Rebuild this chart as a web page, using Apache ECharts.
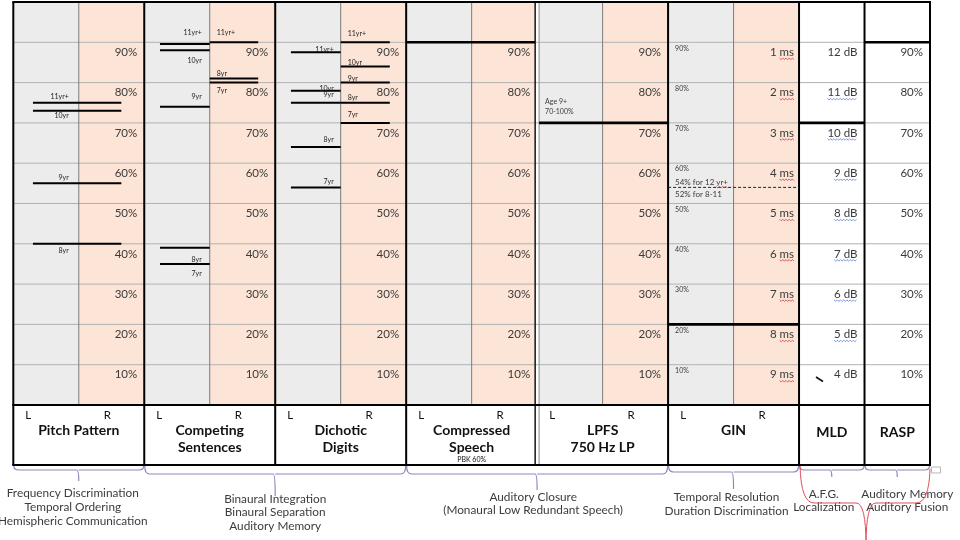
<!DOCTYPE html>
<html>
<head>
<meta charset="utf-8">
<script src="https://cdn.jsdelivr.net/npm/echarts@6.0.0/dist/echarts.min.js"></script>
<style>
html,body{margin:0;padding:0;background:#ffffff;}
#chart{width:960px;height:540px;}
</style>
</head>
<body>
<div id="chart"></div>
<script>
// ===================== DATA =====================
const tests = ["Pitch Pattern", "Competing\nSentences", "Dichotic\nDigits", "Compressed\nSpeech", "LPFS\n750 Hz LP", "GIN", "MLD", "RASP"];
const testEars = [2, 2, 2, 2, 2, 2, 1, 1];
const earLabels = ["L", "R"];
const compressedSubtitle = "PBK 60%";
const percentLevels = [90, 80, 70, 60, 50, 40, 30, 20, 10];
const percentTicks = ["90%", "80%", "70%", "60%", "50%", "40%", "30%", "20%", "10%"];
const ginGapTicks = ["1 ms", "2 ms", "3 ms", "4 ms", "5 ms", "6 ms", "7 ms", "8 ms", "9 ms"];
const mldTicks = ["12 dB", "11 dB", "10 dB", "9 dB", "8 dB", "7 dB", "6 dB", "5 dB", "4 dB"];
const pitchPatternNorms = [["11yr+", 75], ["10yr", 73], ["9yr", 55], ["8yr", 40]];
const competingLeftNorms = [["11yr+", 89.6], ["10yr", 88], ["9yr", 74], ["8yr", 39], ["7yr", 35]];
const competingRightNorms = [["11yr+", 90], ["8yr", 81], ["7yr", 80]];
const dichoticLeftNorms = [["11yr+", 87.5], ["10yr", 78], ["9yr", 75], ["8yr", 64], ["7yr", 54]];
const dichoticRightNorms = [["11yr+", 90], ["10yr", 84], ["9yr", 80], ["8yr", 75], ["7yr", 70]];
const compressedCutoff = 90;
const lpfsCutoff = 70;
const lpfsNote = "Age 9+\n70-100%";
const ginCutoff = 20;
const ginAgeCutoff = 54;
const ginAgeNotes = ["54% for 12 yr+", "52% for 8-11"];
const mldCutoff = 70;
const raspCutoff = 90;
const skillGroupTests = [[0, 0], [1, 2], [3, 4], [5, 5], [6, 6], [7, 7]];
const skillGroupTexts = [
  ["Frequency Discrimination", "Temporal Ordering", "Hemispheric Communication"],
  ["Binaural Integration", "Binaural Separation", "Auditory Memory"],
  ["Auditory Closure", "(Monaural Low Redundant Speech)"],
  ["Temporal Resolution", "Duration Discrimination"],
  ["A.F.G.", "Localization"],
  ["Auditory Memory", "Auditory Fusion"]
];
const redBraceTests = [6, 7];

// ===================== STYLE / LAYOUT =====================
const GRAY = '#ececec', PINK = '#fce4d6', GRIDC = '#b2b2b2', DIVC = '#7c7c7c', INK = '#000000', TXT = '#3a3a3a';
const PURPLE = '#9683bd', RED = '#e0505c';
const FONT = 'Lato, "Open Sans", sans-serif';
const GAP = 0.03;
const colStart = [];
let acc = 0;
testEars.forEach(e => { colStart.push(acc); acc += e; });
const X_MAX = acc;
const percentTests = [0, 1, 2, 3, 4, 7];

const mctx = document.createElement('canvas').getContext('2d');
function tw(text, size, weight) { mctx.font = (weight || 'normal') + ' ' + size + 'px Lato'; return mctx.measureText(text).width; }
function squiggle(x0, x1, y, color) {
  const pts = []; let up = true;
  for (let x = x0; x <= x1 + 0.01; x += 1.6) { pts.push([x, y + (up ? 0 : 1.6)]); up = !up; }
  return { type: 'polyline', shape: { points: pts }, style: { stroke: color, lineWidth: 0.8, fill: null } };
}
function txt(x, y, text, size, align, vAlign, extra) {
  return { type: 'text', style: Object.assign({ text: text, x: x, y: y, fill: TXT, fontSize: size, fontFamily: FONT, align: align || 'center', verticalAlign: vAlign || 'middle' }, extra || {}) };
}
function line(a, b, color, w, dash) {
  return { type: 'line', shape: { x1: a[0], y1: a[1], x2: b[0], y2: b[1] }, style: { stroke: color, lineWidth: w, lineDash: dash || null } };
}
function layer(items, draw, z) {
  return {
    type: 'custom', coordinateSystem: 'cartesian2d', silent: true, animation: false, clip: false, z: z,
    data: items.map(() => [0, 0]),
    renderItem: (params, api) => draw(items[params.dataIndex], api)
  };
}

// ---- cells ----
const cellItems = [];
tests.forEach((t, i) => {
  for (let h = 0; h < testEars[i]; h++) {
    let x0 = colStart[i] + h, x1 = x0 + 1;
    if (i === 3 && h === 1) x1 -= GAP;
    if (i === 4 && h === 0) x0 += GAP;
    cellItems.push({ x0: x0, x1: x1, fill: testEars[i] === 2 ? (h === 0 ? GRAY : PINK) : '#ffffff' });
  }
});
const drawCell = (c, api) => {
  const a = api.coord([c.x0, 100]), b = api.coord([c.x1, 0]);
  return { type: 'rect', shape: { x: a[0], y: a[1], width: b[0] - a[0], height: b[1] - a[1] }, style: { fill: c.fill } };
};

// ---- horizontal grid lines ----
const drawHLine = (v, api) => line(api.coord([0, v]), api.coord([X_MAX, v]), GRIDC, 1);

// ---- L/R dividers ----
const dividerItems = tests.map((t, i) => i).filter(i => testEars[i] === 2).map(i => colStart[i] + 1);
const drawDivider = (x, api) => line(api.coord([x, 100]), api.coord([x, 0]), DIVC, 1);

// ---- borders ----
const borderItems = [];
colStart.concat([X_MAX]).forEach(x => {
  if (x === colStart[4]) {
    borderItems.push({ x: x - GAP, color: '#222', w: 1.6 });
    borderItems.push({ x: x + GAP, color: '#9a9a9a', w: 1.2 });
  } else borderItems.push({ x: x, color: INK, w: 2 });
});
borderItems.push({ h: 'top' }, { h: 'mid' }, { h: 'bot' });
const drawBorder = (b, api) => {
  const yB = api.coord([0, 0])[1];
  if (b.h) {
    const x0 = api.coord([0, 0])[0] - 1, x1 = api.coord([X_MAX, 0])[0] + 1;
    const y = b.h === 'top' ? api.coord([0, 100])[1] : (b.h === 'mid' ? yB : yB + 60);
    return line([x0, y], [x1, y], INK, 2);
  }
  const top = api.coord([b.x, 100]);
  return line(top, [top[0], yB + 60], b.color, b.w);
};

// ---- age norm lines ----
const normSets = [
  { norms: pitchPatternNorms, x0: 0.30, x1: 1.65, tx: 1, tdx: -10, align: 'right', dy: [-6, 5, -6, 7] },
  { norms: competingLeftNorms, x0: 2.24, x1: 3, tx: 3, tdx: -8, align: 'right', dy: [-11, 10, -10, 12, 10] },
  { norms: competingRightNorms, x0: 3, x1: 3.74, tx: 3, tdx: 7, align: 'left', dy: [-10, -5, 8] },
  { norms: dichoticLeftNorms, x0: 4.24, x1: 5, tx: 5, tdx: -7, align: 'right', dy: [-3, -2, -8, -7, -6] },
  { norms: dichoticRightNorms, x0: 5, x1: 5.75, tx: 5, tdx: 7, align: 'left', dy: [-9, -4, -4, -5, -8] }
];
const normItems = [];
normSets.forEach(s => s.norms.forEach((n, k) => normItems.push({ label: n[0], v: n[1], x0: s.x0, x1: s.x1, tx: s.tx, tdx: s.tdx, align: s.align, dy: s.dy[k] })));
const drawNorm = (n, api) => {
  const a = api.coord([n.x0, n.v]), b = api.coord([n.x1, n.v]), t = api.coord([n.tx, n.v]);
  return { type: 'group', children: [
    line(a, b, INK, 2),
    txt(t[0] + n.tdx, t[1] + n.dy, n.label, 7, n.align, 'middle', { fill: '#222' })
  ] };
};

// ---- cut-off lines ----
const cutoffItems = [
  { v: compressedCutoff, x0: colStart[3], x1: colStart[4] - GAP },
  { v: lpfsCutoff, x0: colStart[4] + GAP, x1: colStart[5] },
  { v: ginCutoff, x0: colStart[5], x1: colStart[6] },
  { v: mldCutoff, x0: colStart[6], x1: colStart[7] },
  { v: raspCutoff, x0: colStart[7], x1: X_MAX },
  { v: ginAgeCutoff, x0: colStart[5], x1: colStart[6], dash: true }
];
const drawCutoff = (c, api) => c.dash
  ? line(api.coord([c.x0, c.v]), api.coord([c.x1, c.v]), '#222', 1, [3, 2])
  : line(api.coord([c.x0, c.v]), api.coord([c.x1, c.v]), INK, 2.6);

// ---- text labels inside the table ----
const textItems = [];
percentTests.forEach(t => percentLevels.forEach((v, j) =>
  textItems.push({ x: colStart[t] + testEars[t], v: v, dx: -7, dy: 10, text: percentTicks[j], size: 11.5, align: 'right' })));
percentLevels.forEach((v, j) => {
  textItems.push({ x: colStart[6], v: v, dx: -5, dy: 10, text: ginGapTicks[j], size: 11.5, align: 'right', sq: '#d23a3a', sqPart: 'ms' });
  textItems.push({ x: colStart[7], v: v, dx: -7, dy: 10, text: mldTicks[j], size: 11.5, align: 'right', sq: (j >= 1 && j <= 7) ? '#5b7fd0' : null, sqPart: mldTicks[j] });
  textItems.push({ x: colStart[5], v: v, dx: 7, dy: 6, text: percentTicks[j], size: 7, align: 'left' });
});
textItems.push({ x: colStart[5], v: ginAgeCutoff, dx: 7, dy: -5, text: ginAgeNotes[0], size: 8, align: 'left', sq: '#d23a3a', sqPart: 'yr+', sqAt: 'end' });
textItems.push({ x: colStart[5], v: ginAgeCutoff, dx: 7, dy: 7, text: ginAgeNotes[1], size: 8, align: 'left' });
textItems.push({ x: colStart[4] + GAP, v: lpfsCutoff, dx: 6, dy: -16, text: lpfsNote, size: 7, align: 'left', lh: 10 });
const drawText = (t, api) => {
  const p = api.coord([t.x, t.v]);
  const x = p[0] + t.dx, y = p[1] + t.dy;
  const el = txt(x, y, t.text, t.size, t.align, 'middle', t.lh ? { lineHeight: t.lh } : null);
  if (!t.sq) return el;
  const wAll = tw(t.text, t.size), wPart = tw(t.sqPart, t.size);
  let x1 = t.align === 'right' ? x : x + wAll;
  if (t.sqAt === 'end') x1 = x + wAll;
  return { type: 'group', children: [el, squiggle(x1 - wPart, x1, y + t.size * 0.5, t.sq)] };
};

// ---- label row (below table) ----
const rowItems = [];
tests.forEach((name, i) => {
  if (testEars[i] === 2) {
    rowItems.push({ x: colStart[i], dx: 15, dy: 10, text: earLabels[0], size: 11.5 });
    rowItems.push({ x: colStart[i], dx: 94, dy: 10, text: earLabels[1], size: 11.5 });
  }
  const multi = name.indexOf('\n') >= 0;
  rowItems.push({ x: colStart[i] + testEars[i] / 2, dx: 0, dy: multi ? 33.5 : (testEars[i] === 1 ? 27 : 25), text: name, size: 14, bold: true, lh: 17 });
});
rowItems.push({ x: colStart[3] + 1, dx: 0, dy: 55, text: compressedSubtitle, size: 7 });
const drawRow = (r, api) => {
  const p = api.coord([r.x, 0]);
  const extra = { fill: '#111' };
  if (r.bold) { extra.fontWeight = 'bold'; extra.lineHeight = r.lh; }
  return txt(p[0] + r.dx, p[1] + r.dy, r.text, r.size, 'center', 'middle', extra);
};

// ---- braces + skill texts ----
const braceLayout = [
  { yh: 65, yt: 76, dx: -6, ty: 88, lh: 14 },
  { yh: 69, yt: 91, dx: 0, ty: 94, lh: 13.5 },
  { yh: 69, yt: 85, dx: -4, ty: 92, lh: 13 },
  { yh: 67, yt: 84, dx: -7, ty: 92.5, lh: 14 },
  { yh: 65, yt: 72, dx: -8, ty: 89, lh: 13 },
  { yh: 65, yt: 72, dx: 10, ty: 89, lh: 13 }
];
const braceItems = skillGroupTests.map((g, i) => ({ a: g[0], b: g[1], texts: skillGroupTexts[i], L: braceLayout[i] }));
const drawBrace = (br, api) => {
  const yB = api.coord([0, 0])[1];
  const x1 = api.coord([colStart[br.a], 0])[0] + 0.5;
  const x2 = api.coord([colStart[br.b] + testEars[br.b], 0])[0] - 0.5;
  const xc = (x1 + x2) / 2, y0 = yB + 61, yh = yB + br.L.yh, yt = yB + br.L.yt, r = 5;
  const d = `M${x1},${y0} Q${x1},${yh} ${x1 + r},${yh} L${xc - 2},${yh} Q${xc},${yh} ${xc},${yt} M${xc},${yh} Q${xc},${yh} ${xc + 2},${yh} L${x2 - r},${yh} Q${x2},${yh} ${x2},${y0}`;
  return { type: 'group', children: [
    { type: 'path', shape: { pathData: d }, style: { stroke: PURPLE, lineWidth: 1.2, fill: null } },
    txt(xc + br.L.dx, yB + br.L.ty - br.L.lh / 2, br.texts.join('\n'), 11.8, 'center', 'top', { lineHeight: br.L.lh, fill: '#3c3c3c' })
  ] };
};
const redItems = [redBraceTests];
const drawRed = (g, api) => {
  const yB = api.coord([0, 0])[1];
  const x1 = api.coord([colStart[g[0]], 0])[0] + 1, x2 = api.coord([colStart[g[1]] + testEars[g[1]], 0])[0];
  const xc = (x1 + x2) / 2 + 1, y0 = yB + 61, yh = yB + 98, yt = yB + 140;
  const d = `M${x1},${y0} Q${x1 + 1},${yh} ${x1 + 14},${yh} L${xc - 10},${yh} Q${xc},${yh} ${xc},${yt} M${x2},${y0 + 3} Q${x2 - 1},${yh} ${x2 - 14},${yh} L${xc + 10},${yh} Q${xc},${yh} ${xc},${yt}`;
  const bx = x2 + 1.5;
  return { type: 'group', children: [
    { type: 'path', shape: { pathData: d }, style: { stroke: RED, lineWidth: 1, fill: null } },
    { type: 'rect', shape: { x: bx, y: yB + 62, width: 9, height: 6 }, style: { stroke: '#b8b8b8', lineWidth: 1, fill: '#fff' } }
  ] };
};

const chart = echarts.init(document.getElementById('chart'), null, { renderer: 'canvas' });
chart.setOption({
  animation: false,
  backgroundColor: '#ffffff',
  grid: { left: 13.3, right: 30, top: 2, bottom: 0, containLabel: false },
  xAxis: { type: 'value', min: 0, max: X_MAX, show: false },
  yAxis: { type: 'value', min: -33.5, max: 100, show: false },
  graphic: [
    { type: 'line', shape: { x1: 816, y1: 377, x2: 823, y2: 381.5 }, style: { stroke: '#111', lineWidth: 1.6 }, z: 100 }
  ],
  series: [
    layer(cellItems, drawCell, 1),
    layer(percentLevels, drawHLine, 2),
    layer(dividerItems, drawDivider, 3),
    layer(borderItems, drawBorder, 5),
    layer(normItems, drawNorm, 6),
    layer(cutoffItems, drawCutoff, 6),
    layer(textItems, drawText, 7),
    layer(rowItems, drawRow, 7),
    layer(braceItems, drawBrace, 7),
    layer(redItems, drawRed, 8)
  ]
});
</script>
</body>
</html>
